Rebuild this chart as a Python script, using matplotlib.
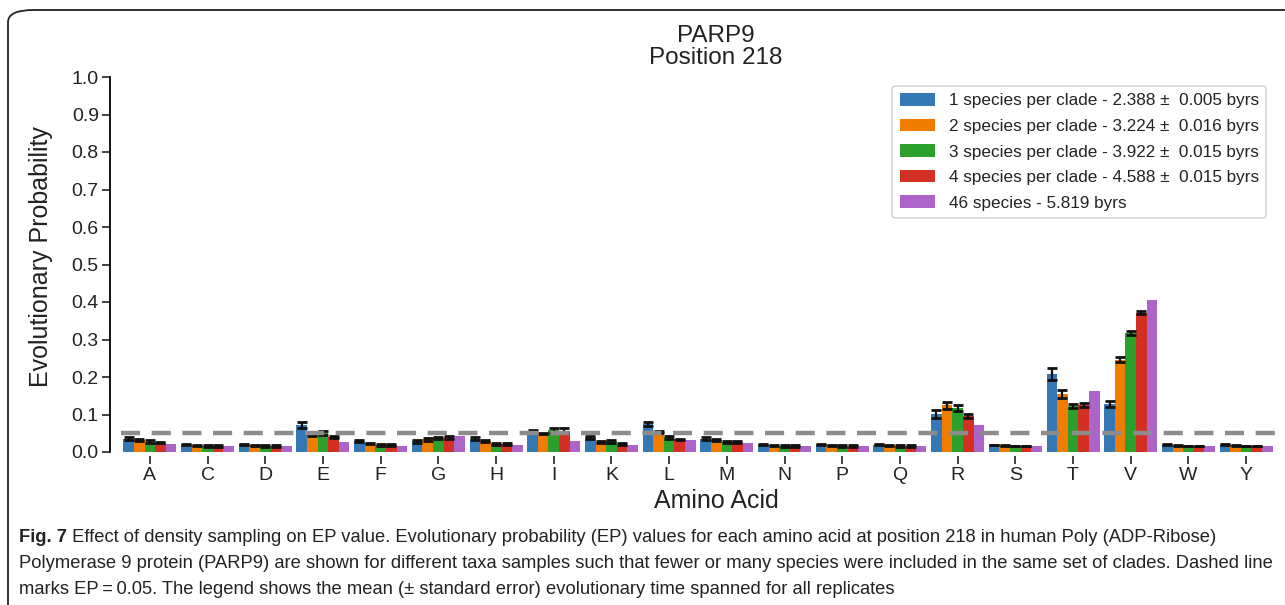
import numpy as np
import matplotlib
matplotlib.use("Agg")
import matplotlib.pyplot as plt
from matplotlib import font_manager
from matplotlib.patches import FancyBboxPatch

plt.rcParams["font.family"] = ["Liberation Sans", "DejaVu Sans"]

amino_acids = ["A", "C", "D", "E", "F", "G", "H", "I", "K", "L",
               "M", "N", "P", "Q", "R", "S", "T", "V", "W", "Y"]

ep_1 = [0.036, 0.020, 0.021, 0.072, 0.029, 0.029, 0.035, 0.054, 0.040, 0.075,
        0.036, 0.020, 0.020, 0.020, 0.102, 0.019, 0.208, 0.127, 0.020, 0.020]
ep_2 = [0.032, 0.018, 0.018, 0.046, 0.023, 0.034, 0.029, 0.050, 0.027, 0.053,
        0.032, 0.018, 0.018, 0.018, 0.125, 0.018, 0.155, 0.246, 0.018, 0.018]
ep_3 = [0.028, 0.016, 0.016, 0.050, 0.019, 0.038, 0.022, 0.058, 0.029, 0.039,
        0.027, 0.016, 0.016, 0.016, 0.117, 0.016, 0.123, 0.318, 0.016, 0.016]
ep_4 = [0.025, 0.016, 0.016, 0.040, 0.019, 0.039, 0.021, 0.057, 0.021, 0.034,
        0.027, 0.016, 0.016, 0.016, 0.096, 0.016, 0.125, 0.371, 0.016, 0.016]
ep_46 = [0.021, 0.016, 0.016, 0.027, 0.017, 0.043, 0.019, 0.029, 0.019, 0.032,
         0.025, 0.016, 0.016, 0.016, 0.072, 0.016, 0.163, 0.405, 0.016, 0.016]

err_1 = [0.003, 0.001, 0.001, 0.009, 0.003, 0.004, 0.004, 0.004, 0.004, 0.005,
         0.003, 0.001, 0.001, 0.001, 0.010, 0.001, 0.015, 0.008, 0.001, 0.001]
err_2 = [0.003, 0.001, 0.001, 0.002, 0.002, 0.004, 0.003, 0.002, 0.003, 0.002,
         0.003, 0.001, 0.001, 0.001, 0.009, 0.001, 0.010, 0.007, 0.001, 0.001]
err_3 = [0.003, 0.002, 0.002, 0.005, 0.002, 0.003, 0.002, 0.006, 0.004, 0.003,
         0.003, 0.002, 0.002, 0.002, 0.008, 0.001, 0.006, 0.005, 0.001, 0.001]
err_4 = [0.002, 0.002, 0.002, 0.003, 0.002, 0.003, 0.002, 0.006, 0.002, 0.002,
         0.003, 0.002, 0.002, 0.002, 0.006, 0.001, 0.006, 0.004, 0.001, 0.001]

labels = [
    "1 species per clade - 2.388 \u00b1  0.005 byrs",
    "2 species per clade - 3.224 \u00b1  0.016 byrs",
    "3 species per clade - 3.922 \u00b1  0.015 byrs",
    "4 species per clade - 4.588 \u00b1  0.015 byrs",
    "46 species - 5.819 byrs",
]
colors = ["#3478b5", "#f07c00", "#2ca02c", "#d32f22", "#ad64c9"]
series = [ep_1, ep_2, ep_3, ep_4, ep_46]
errors = [err_1, err_2, err_3, err_4, None]

W, H = 1285, 605
fig = plt.figure(figsize=(W / 100, H / 100), dpi=100)
ax = fig.add_axes([121 / W, 1 - 452 / H, 1154 / W, 375 / H])

x = np.arange(len(amino_acids))
width = 0.184
for i, (vals, err, col, lab) in enumerate(zip(series, errors, colors, labels)):
    pos = x + (i - 2) * width
    ax.bar(pos, vals, width=width, color=col, label=lab, zorder=2)
    if err is not None:
        ax.errorbar(pos, vals, yerr=err, fmt="none", ecolor="#111111",
                    elinewidth=1.6, capsize=3.5, capthick=2.0, zorder=3)

ax.axhline(0.05, color="#8c8c8c", lw=3.2, dashes=(4.3, 2.6), zorder=4)

ax.set_xlim(-0.5, len(amino_acids) - 0.5)
ax.set_ylim(0, 1.0)
yt = np.round(np.arange(0, 1.01, 0.1), 1)
ax.set_yticks(yt)
ax.set_yticklabels([f"{v:.1f}" for v in yt])
ax.set_xticks(x)
ax.set_xticklabels(amino_acids)
ax.tick_params(axis="both", labelsize=14, length=6, width=1.2, color="#222222",
               labelcolor="#222222", pad=2)

for s in ["top", "right", "bottom"]:
    ax.spines[s].set_visible(False)
ax.spines["bottom"].set_position(("outward", 3))
ax.spines["left"].set_position(("outward", 8))
ax.spines["left"].set_bounds(0, 1.0)
ax.spines["left"].set_linewidth(1.3)

# the original centres its labels a bit right of the visible axes
mid = (716 - 121) / 1154
ax.set_xlabel("Amino Acid", fontsize=18, color="#222222")
ax.xaxis.set_label_coords(mid, -0.1)
ax.set_ylabel("Evolutionary Probability", fontsize=18, color="#222222")
ax.yaxis.set_label_coords(-0.059, 0.52)
title = ax.set_title("PARP9\nPosition 218", fontsize=17.5, color="#222222",
                     linespacing=1.0, pad=9)
title.set_x(mid)

leg = ax.legend(loc="upper right", fontsize=12.3, frameon=True, fancybox=True,
                handlelength=2.05, handleheight=0.76, handletextpad=0.8,
                borderaxespad=0.5, labelspacing=0.6, borderpad=0.45)
leg.get_frame().set_edgecolor("#cccccc")
leg.get_frame().set_linewidth(1.2)
for t in leg.get_texts():
    t.set_color("#222222")

# rounded figure border, running off the right and bottom edges
box = FancyBboxPatch((8 / W, -0.2), 1.2, 1.2 - 10 / H,
                     boxstyle="round,pad=0,rounding_size=0.02",
                     transform=fig.transFigure, fill=False,
                     edgecolor="#222222", linewidth=1.3)
fig.patches.append(box)

# caption
names = {f.name for f in font_manager.fontManager.ttflist}
cap_font = "Liberation Sans Narrow" if "Liberation Sans Narrow" in names else "Liberation Sans"
cap_lines = [
    " Effect of density sampling on EP value. Evolutionary probability (EP) values for each amino acid at position 218 in human Poly (ADP-Ribose)",
    "Polymerase 9 protein (PARP9) are shown for different taxa samples such that fewer or many species were included in the same set of clades. Dashed line",
    "marks EP\u2009=\u20090.05. The legend shows the mean (\u00b1 standard error) evolutionary time spanned for all replicates",
]
cap_y = [538, 563, 589]
bold = fig.text(19 / W, 1 - cap_y[0] / H, "Fig. 7", fontsize=12, fontweight="bold",
                family=cap_font, va="center", color="#222222")
texts = [fig.text(19 / W, 1 - yy / H, line, fontsize=12, family=cap_font,
                  va="center", color="#222222")
         for line, yy in zip(cap_lines, cap_y)]
fig.canvas.draw()
renderer = fig.canvas.get_renderer()
wide = texts[1].get_window_extent(renderer).width
size = 12 * (1275 - 19) / wide
bold.set_fontsize(size)
for t in texts:
    t.set_fontsize(size)
fig.canvas.draw()
bb = bold.get_window_extent(renderer)
texts[0].set_x(bb.x1 / W)

fig.savefig("out.png", dpi=100)
